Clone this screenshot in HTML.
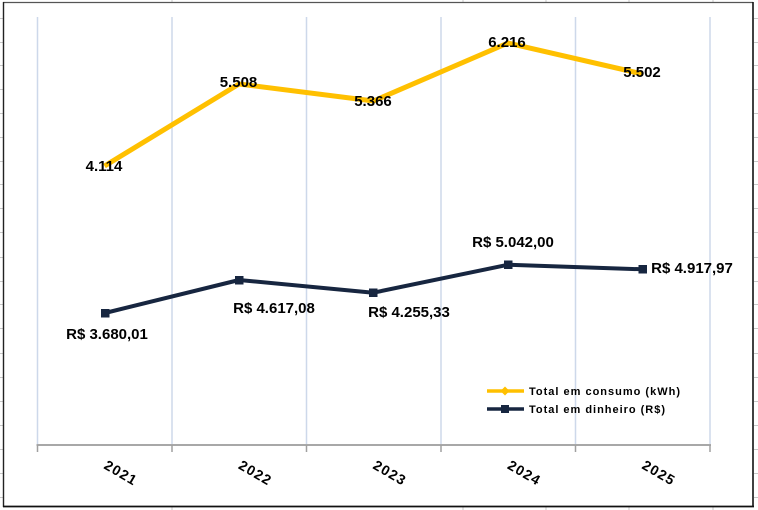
<!DOCTYPE html>
<html>
<head>
<meta charset="utf-8">
<style>
html,body{margin:0;padding:0;background:#fff;}
svg{display:block;}
text{font-family:"Liberation Sans",Arial,sans-serif;font-weight:bold;fill:#000;}
</style>
</head>
<body>
<svg width="758" height="510" viewBox="0 0 758 510" xmlns="http://www.w3.org/2000/svg">
<rect x="0" y="0" width="758" height="510" fill="#fff"/>
<g stroke="#c8c8c8" stroke-width="1">
<path d="M0 18.5H3M0 42.5H3M0 65.5H3M0 89.5H3M0 113.5H3M0 137.5H3M0 161.5H3M0 184.5H3M0 208.5H3M0 232.5H3M0 257.5H3M0 281.5H3M0 304.5H3M0 328.5H3M0 353.5H3M0 377.5H3M0 401.5H3M0 425.5H3M0 449.5H3M0 473.5H3M0 497.5H3"/>
<path d="M754 18.5H758M754 42.5H758M754 65.5H758M754 89.5H758M754 113.5H758M754 137.5H758M754 161.5H758M754 184.5H758M754 208.5H758M754 232.5H758M754 257.5H758M754 281.5H758M754 304.5H758M754 328.5H758M754 353.5H758M754 377.5H758M754 401.5H758M754 425.5H758M754 449.5H758M754 473.5H758M754 497.5H758"/>
<path d="M172 0V2M463 0V2M546 0V2M629 0V2M713 0V2M172 507V510M463 507V510M546 507V510M629 507V510M713 507V510"/>
</g>
<line x1="3" y1="2.5" x2="753" y2="2.5" stroke="#555" stroke-width="1.2"/>
<line x1="3.5" y1="2" x2="3.5" y2="507" stroke="#222" stroke-width="1.4"/>
<line x1="753" y1="2" x2="753" y2="507" stroke="#111" stroke-width="1.6"/>
<line x1="3" y1="506.5" x2="754" y2="506.5" stroke="#111" stroke-width="1.8"/>
<g stroke="#cdd8ea" stroke-width="1.5">
<path d="M37.5 17V445M172 17V445M306.5 17V445M441 17V445M575.5 17V445M710 17V445"/>
</g>
<line x1="36.5" y1="445" x2="711" y2="445" stroke="#a8a8a8" stroke-width="2"/>
<g stroke="#a0a0a0" stroke-width="1.5">
<path d="M37.5 445V452M172 445V452M306.5 445V452M441 445V452M575.5 445V452M710 445V452"/>
</g>
<polyline points="104.5,166 239,84 373.5,101 508,43 642.5,74" fill="none" stroke="#ffc000" stroke-width="5" stroke-linejoin="round"/>
<polyline points="105,313 239,280 373.3,292.7 508.3,264.7 642.7,269.3" fill="none" stroke="#172640" stroke-width="4" stroke-linejoin="round"/>
<g fill="#172640">
<rect x="101" y="309" width="8.5" height="8.5"/>
<rect x="235" y="276" width="8.5" height="8.5"/>
<rect x="369" y="288.5" width="8.5" height="8.5"/>
<rect x="504" y="260.5" width="8.5" height="8.5"/>
<rect x="638.5" y="265" width="8.5" height="8.5"/>
</g>
<g font-size="15" text-anchor="middle">
<text x="104" y="171">4.114</text>
<text x="238.5" y="87">5.508</text>
<text x="373" y="106">5.366</text>
<text x="507" y="47">6.216</text>
<text x="642" y="77">5.502</text>
<text x="107" y="339">R$ 3.680,01</text>
<text x="274" y="313">R$ 4.617,08</text>
<text x="409" y="317">R$ 4.255,33</text>
<text x="513" y="247">R$ 5.042,00</text>
<text x="692" y="273">R$ 4.917,97</text>
</g>
<g font-size="14" text-anchor="middle" letter-spacing="1.2">
<text transform="translate(118.5,477) rotate(30)">2021</text>
<text transform="translate(253,477) rotate(30)">2022</text>
<text transform="translate(387.5,477) rotate(30)">2023</text>
<text transform="translate(522,477) rotate(30)">2024</text>
<text transform="translate(656.5,477) rotate(30)">2025</text>
</g>
<line x1="487" y1="391" x2="524" y2="391" stroke="#ffc000" stroke-width="3.5"/>
<polygon points="505,386.5 509.5,391 505,395.5 500.5,391" fill="#ffc000"/>
<line x1="487" y1="409" x2="524" y2="409" stroke="#172640" stroke-width="3.5"/>
<rect x="501" y="405" width="8" height="8" fill="#172640"/>
<text x="529" y="395" font-size="11" textLength="151" lengthAdjust="spacing">Total em consumo (kWh)</text>
<text x="529" y="413" font-size="11" textLength="136" lengthAdjust="spacing">Total em dinheiro (R$)</text>
</svg>
</body>
</html>
